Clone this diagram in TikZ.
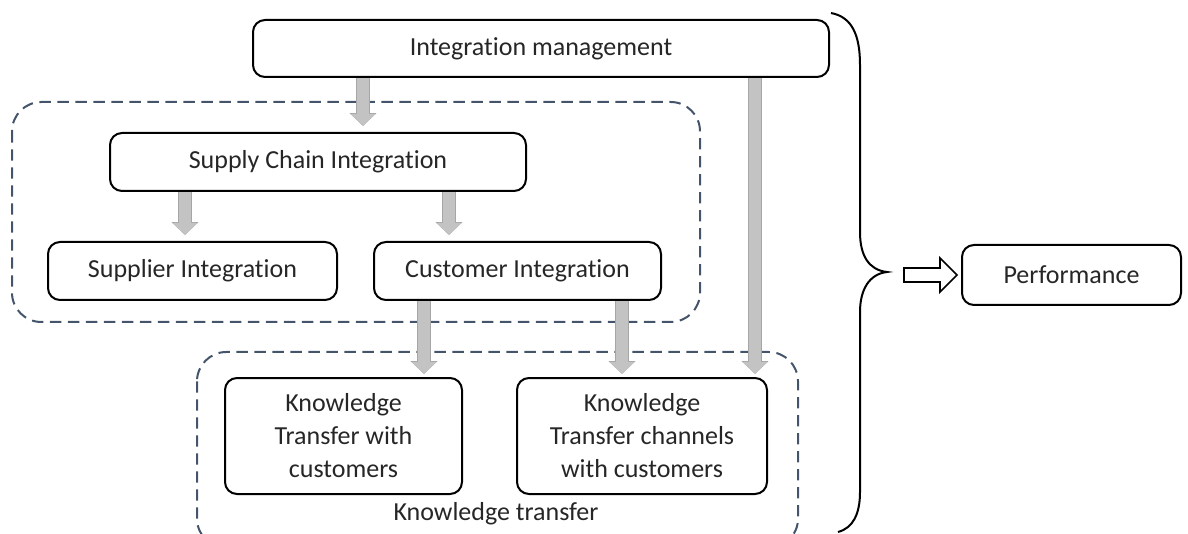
\documentclass[tikz,border=0pt]{standalone}
\usepackage{fontspec}
\setmainfont[Ligatures={NoCommon}]{Carlito}
\usetikzlibrary{arrows.meta,calc}
\definecolor{regionblue}{HTML}{44546A}
\definecolor{arrowfill}{HTML}{C3C3C3}
\definecolor{arrowedge}{HTML}{A6A6A6}
\definecolor{textgray}{HTML}{262626}
\begin{document}
\begin{tikzpicture}[x=0.75pt,y=-0.75pt,
  every node/.style={font=\fontsize{19.5}{24.75}\selectfont, text=textgray},
  box/.style={draw=black, line width=1.5pt, rounded corners=9pt, inner sep=0pt, align=center},
  region/.style={draw=regionblue, line width=1.5pt, rounded corners=22pt,
    dash pattern=on 8.5pt off 5pt},
  garr/.style={draw=arrowfill, line width=8.5pt, -{Triangle[width=18pt,length=9pt]},
    preaction={draw=arrowedge, line width=10pt, -{Triangle[width=19.5pt,length=9.6pt]}}}
  ]
\useasboundingbox (0,0) rectangle (1188,534);

% grouping regions
\draw[region] (12,102) rectangle (700,322);
\draw[region] (197,352) rectangle (798,548);

% boxes
\node[box, minimum width=432pt, minimum height=42.75pt] (im) at (541,48.5) {Integration management};
\node[box, minimum width=312pt, minimum height=43.5pt] (sci) at (318,162) {Supply Chain Integration};
\node[box, minimum width=216.75pt, minimum height=43.5pt] (sup) at (192.5,271) {Supplier Integration};
\node[box, minimum width=215.25pt, minimum height=43.5pt] (cus) at (517.5,271) {Customer Integration};
\node[box, minimum width=177.75pt, minimum height=87pt] (kt1) at (343.5,436) {Knowledge\\Transfer with\\customers};
\node[box, minimum width=187.5pt, minimum height=87pt] (kt2) at (642,436) {Knowledge\\Transfer channels\\with customers};
\node[box, minimum width=164.25pt, minimum height=45pt] (perf) at (1071.5,275) {Performance};
\node[anchor=base] (ktl) at (496,520) {Knowledge transfer};

% arrow columns
\coordinate (c1) at (363,0);
\coordinate (c2) at (185,0);
\coordinate (c3) at (449,0);
\coordinate (c4) at (424,0);
\coordinate (c5) at (622,0);
\coordinate (c6) at (755,0);

% block arrows
\draw[garr] (im.south -| c1) -- ($(sci.north -| c1)+(0,-6)$);
\draw[garr] (sci.south -| c2) -- ($(sup.north -| c2)+(0,-6)$);
\draw[garr] (sci.south -| c3) -- ($(cus.north -| c3)+(0,-6)$);
\draw[garr] (cus.south -| c4) -- ($(kt1.north -| c4)+(0,-3)$);
\draw[garr] (cus.south -| c5) -- ($(kt2.north -| c5)+(0,-3)$);
\draw[garr] (im.south -| c6) -- ($(kt2.north -| c6)+(0,-3)$);

% curly brace
\coordinate (btip) at (887,272);
\draw[line width=1.5pt, black] (831,13) .. controls (852,17) and (860,35) .. (860,65)
  -- (860,232) .. controls (860,256) and (869,270) .. (btip)
  .. controls (869,274) and (860,290) .. (860,312)
  -- (860,492) .. controls (860,514) and (853,528) .. (838,532);

% hollow arrow into Performance
\draw[line width=1.3pt, black, fill=white]
  (904,268) -- (940,268) -- (940,258) -- (957,275) -- (940,292) -- (940,282) -- (904,282) -- cycle;
\end{tikzpicture}
\end{document}
